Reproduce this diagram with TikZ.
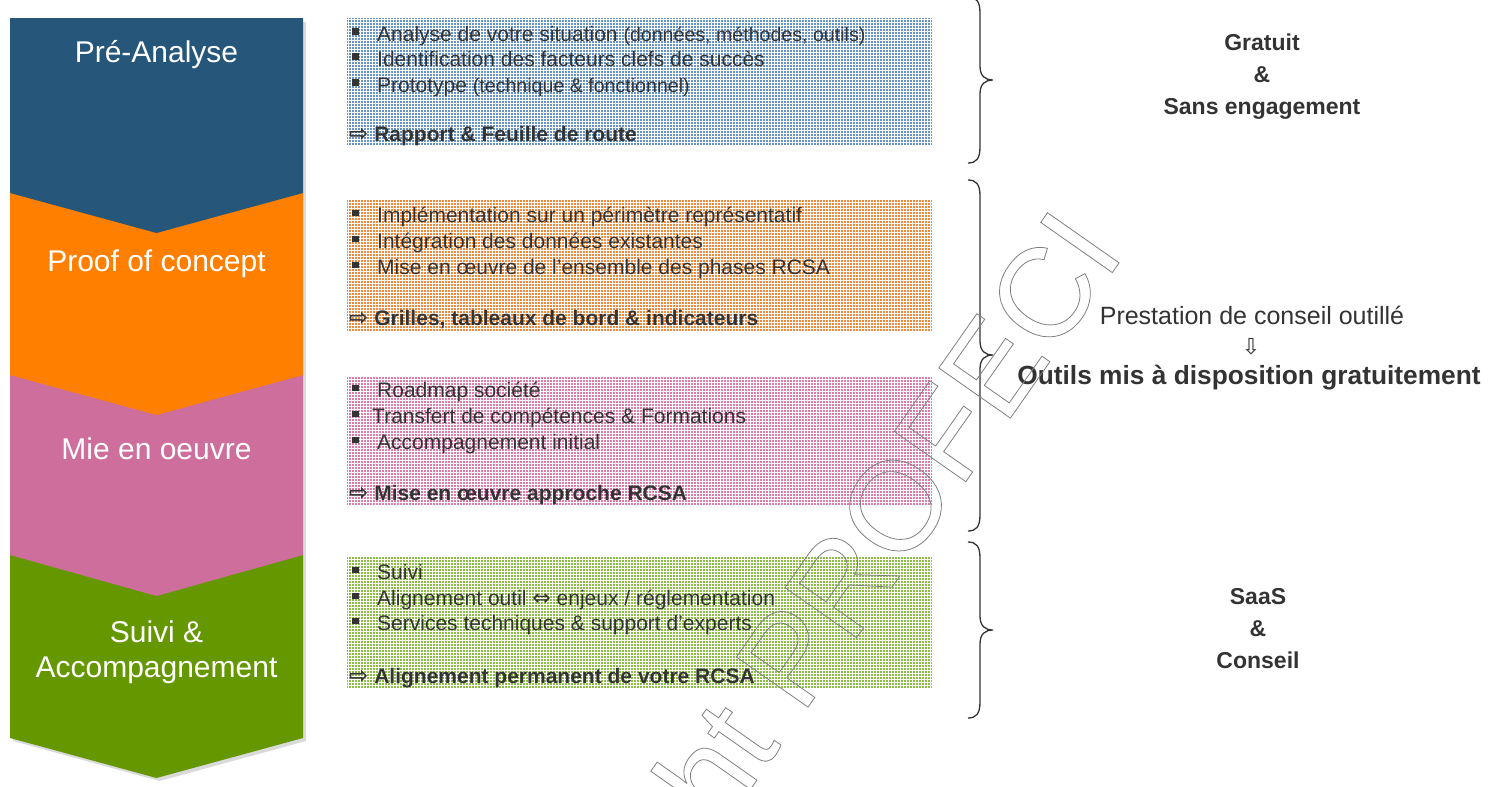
\documentclass[tikz,border=0pt]{standalone}
\usepackage{fontspec}
\setmainfont{Liberation Sans}
\newfontfamily\symfont{DejaVu Sans}
\usetikzlibrary{patterns}
\definecolor{cblue}{HTML}{265679}
\definecolor{corange}{HTML}{FF8000}
\definecolor{cpink}{HTML}{CD6E9C}
\definecolor{cgreen}{HTML}{659800}
\definecolor{cshadow}{HTML}{DADADA}
\definecolor{bblue}{HTML}{6592C8}
\definecolor{borange}{HTML}{F2883C}
\definecolor{bpink}{HTML}{DE7BAA}
\definecolor{bgreen}{HTML}{8DBD45}
\definecolor{txt}{HTML}{333333}
\newcommand{\setfs}[1]{\fontsize{#1}{#1}\selectfont}
\newcommand{\mybul}[1][28pt]{\makebox[#1][l]{\hspace{3pt}\raisebox{6pt}{\rule{6.5pt}{6.5pt}}}}
\newcommand{\myarr}{{\symfont\setfs{23}⇨}}
\tikzset{
  chevtxt/.style={text=white, font=\fontsize{30}{35}\selectfont, align=center, inner sep=0},
  boxrect/.style={draw=none, minimum width=585, minimum height=#1, anchor=north west, inner sep=0},
  gridover/.style={pattern=grid, pattern color=white},
  itemline/.style={anchor=base west, inner sep=0, text=txt, font=\setfs{21}},
  boldline/.style={anchor=base west, inner sep=0, text=txt, font=\setfs{21}\bfseries},
  brace/.style={draw=txt, line width=1.3pt},
  sidetxt/.style={text=txt, align=center, inner sep=0},
}
\begin{document}
\begin{tikzpicture}[x=1pt,y=-1pt]
\useasboundingbox (0,0) rectangle (1502,787);
% shadow of the chevron stack
\fill[cshadow] (13,22) -- (306,22) -- (306,741) -- (159.5,781) -- (13,741) -- cycle;
% chevrons, bottom first
\fill[cgreen]  (10,555) -- (303,555) -- (303,738) -- (156.5,778) -- (10,738) -- cycle;
\fill[cpink]   (10,375) -- (303,375) -- (303,555) -- (156.5,596) -- (10,555) -- cycle;
\fill[corange] (10,193) -- (303,193) -- (303,375) -- (156.5,415) -- (10,375) -- cycle;
\fill[cblue]   (10,18) -- (303,18) -- (303,193) -- (156.5,233) -- (10,193) -- cycle;
\node[chevtxt] (c1) at (156.5,55) {Pré-Analyse};
\node[chevtxt] (c2) at (156.5,264) {Proof of concept};
\node[chevtxt] (c3) at (156.5,449) {Mie en oeuvre};
\node[chevtxt] (c4) at (156.5,652) {Suivi \&\\Accompagnement};

% boxes
\node[boxrect=127, fill=bblue] (b1) at (347,18) {};
\fill[gridover] (b1.north west) rectangle (b1.south east);
\node[boxrect=131, fill=borange] (b2) at (347,200) {};
\fill[gridover] (b2.north west) rectangle (b2.south east);
\node[boxrect=129, fill=bpink] (b3) at (347,377) {};
\fill[gridover] (b3.north west) rectangle (b3.south east);
\node[boxrect=132, fill=bgreen] (b4) at (347,557) {};
\fill[gridover] (b4.north west) rectangle (b4.south east);

% box 1
\node[itemline] (t11) at (349,41) {\mybul Analyse de votre situation {\setfs{19.6}(données, méthodes, outils)}};
\node[itemline] (t12) at (349,66) {\mybul Identification des facteurs clefs de succès};
\node[itemline] (t13) at (349,92) {\mybul Prototype {\setfs{19.6}(technique \& fonctionnel)}};
\node[boldline] (t14) at (349,141) {\myarr\ Rapport \& Feuille de route};
% box 2
\node[itemline] (t21) at (349,222) {\mybul Implémentation sur un périmètre représentatif};
\node[itemline] (t22) at (349,248) {\mybul Intégration des données existantes};
\node[itemline] (t23) at (349,274) {\mybul Mise en œuvre de l’ensemble des phases RCSA};
\node[boldline] (t24) at (349,325) {\myarr\ Grilles, tableaux de bord \& indicateurs};
% box 3
\node[itemline] (t31) at (349,397) {\mybul Roadmap société};
\node[itemline] (t32) at (349,423) {\mybul[23pt]Transfert de compétences \& Formations};
\node[itemline] (t33) at (349,449) {\mybul Accompagnement initial};
\node[boldline] (t34) at (349,500) {\myarr\ Mise en œuvre approche RCSA};
% box 4
\node[itemline] (t41) at (349,579) {\mybul Suivi};
\node[itemline] (t42) at (349,605) {\mybul Alignement outil {\symfont\setfs{22}⇔} enjeux / réglementation};
\node[itemline] (t43) at (349,630) {\mybul Services techniques \& support d’experts};
\node[boldline] (t44) at (349,683) {\myarr\ Alignement permanent de votre RCSA};

% braces
\begin{scope}
\clip (0,0) rectangle (1502,787);
\draw[brace] (968,-3) .. controls (976,-3) and (980,1) .. (980,13) -- (980,66)
  .. controls (980,76) and (985,80) .. (993,80) .. controls (985,80) and (980,84) .. (980,94)
  -- (980,147) .. controls (980,159) and (976,163) .. (968,163);
\end{scope}
\draw[brace] (968,180) .. controls (976,180) and (980,184) .. (980,196) -- (980,341)
  .. controls (980,351) and (985,355) .. (993,355) .. controls (985,355) and (980,359) .. (980,369)
  -- (980,515) .. controls (980,527) and (976,531) .. (968,531);
\draw[brace] (968,542) .. controls (976,542) and (980,546) .. (980,558) -- (980,616)
  .. controls (980,626) and (985,630) .. (993,630) .. controls (985,630) and (980,634) .. (980,644)
  -- (980,702) .. controls (980,714) and (976,718) .. (968,718);

% right-hand texts
\node[sidetxt, font=\fontsize{23}{32}\selectfont\bfseries] (r1) at (1262,77) {Gratuit\\\&\\Sans engagement};
\node[sidetxt, font=\setfs{25}] (r2) at (1252,315) {Prestation de conseil outillé};
\node[sidetxt, font=\symfont\setfs{22}] (r3) at (1251,347) {⇩};
\node[sidetxt, font=\setfs{26.3}\bfseries] (r4) at (1249,378) {Outils mis à disposition gratuitement};
\node[sidetxt, font=\fontsize{23}{32}\selectfont\bfseries] (r5) at (1258,629) {SaaS\\\&\\Conseil};

% watermark (outlined text)
\begin{scope}
\clip (0,0) rectangle (1502,787);
\node[rotate=55, anchor=base east, inner sep=0, text=gray, font=\setfs{127}] (wm) at (1126,253)
  {\special{pdf:literal direct 1 Tr 0.8 w}ht PROFECI\special{pdf:literal direct 0 Tr}};
\end{scope}
\end{tikzpicture}
\end{document}
